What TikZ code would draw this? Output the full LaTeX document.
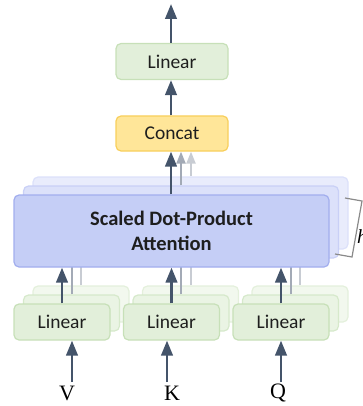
\documentclass[tikz,border=0pt]{standalone}
\usepackage{fontspec}
\setsansfont{Carlito}
\newfontfamily\letterfont{Liberation Serif}
\usetikzlibrary{arrows.meta}

\definecolor{arrowdark}{HTML}{44546A}
\definecolor{ghostA}{HTML}{A3AAB6}
\definecolor{ghostB}{HTML}{C8CCD3}
\definecolor{textdark}{HTML}{1E1E1E}
\definecolor{linfill}{HTML}{E2EFDA}
\definecolor{linline}{HTML}{C7E0B8}
\definecolor{linfillB}{HTML}{EAF4E4}
\definecolor{linlineB}{HTML}{D6E9CB}
\definecolor{linfillC}{HTML}{F2F8EE}
\definecolor{linlineC}{HTML}{E4F0DC}
\definecolor{catfill}{HTML}{FFE699}
\definecolor{catline}{HTML}{F8CF5C}
\definecolor{attfill}{HTML}{C5CEF6}
\definecolor{attline}{HTML}{A2AEEE}
\definecolor{attfillB}{HTML}{DCE1FA}
\definecolor{attlineB}{HTML}{C9D0F6}
\definecolor{attfillC}{HTML}{E9ECFC}
\definecolor{attlineC}{HTML}{DCE1FA}
\definecolor{bracketgray}{HTML}{8A8A8A}

\begin{document}
\begin{tikzpicture}[x=1pt,y=-1pt,
  box/.style={draw, rounded corners=5pt, line width=1.2pt, inner sep=0pt,
    text=textdark, font=\sffamily\fontsize{19.5}{21}\selectfont},
  linbox/.style={box, fill=linfill, draw=linline, minimum width=96pt, minimum height=36pt},
  linboxB/.style={linbox, fill=linfillB, draw=linlineB},
  linboxC/.style={linbox, fill=linfillC, draw=linlineC},
  wideline/.style={box, fill=linfill, draw=linline, minimum width=112pt, minimum height=36pt},
  catbox/.style={box, fill=catfill, draw=catline, minimum width=112pt, minimum height=35pt},
  attbox/.style={box, fill=attfill, draw=attline, minimum width=315pt, minimum height=72pt,
    align=center, font=\sffamily\bfseries\fontsize{20.5}{25}\selectfont},
  attboxB/.style={attbox, fill=attfillB, draw=attlineB},
  attboxC/.style={attbox, fill=attfillC, draw=attlineC},
  arr/.style={-{Triangle[length=15pt,width=11.5pt]}, line width=2.6pt, draw=arrowdark},
  ghostarrA/.style={-{Triangle[length=12pt,width=9pt]}, line width=2pt, draw=ghostA},
  ghostarrB/.style={-{Triangle[length=12pt,width=9pt]}, line width=2pt, draw=ghostB},
  ghostlineA/.style={line width=2pt, draw=ghostA},
  ghostlineB/.style={line width=2pt, draw=ghostB},
  letter/.style={inner sep=0pt, text=black, font=\letterfont\fontsize{22}{24}\selectfont},
  bracket/.style={draw=bracketgray, line width=1.2pt}
]
\useasboundingbox (0,0) rectangle (363,406);

% stacked attention heads, back to front
\node[attboxC] (attC) at (190.5,213) {};
\node[attboxB] (attB) at (181,222) {};

% stacked linear projections for V, K and Q
\foreach \cx/\nm in {62/v, 171.5/k, 281/q} {
  \node[linboxC] (lin\nm C) at ({\cx+19},304) {};
  \node[linboxB] (lin\nm B) at ({\cx+9.5},313) {};
}

% upper blocks
\node[wideline] (linout) at (172,61.5) {Linear};
\node[catbox] (concat) at (172,133.5) {Concat};

% ghost arrows from the back heads into Concat
\coordinate (gA) at (181,0);
\coordinate (gB) at (191,0);
\draw[ghostarrB] (attC.north -| gB) -- (concat.south -| gB);
\draw[ghostarrA] (attB.north -| gA) -- (concat.south -| gA);

% ghost lines from the back projections into the attention block
\foreach \nm in {v,k,q} {
  \draw[ghostlineB] (lin\nm C.north) -- ++(0,-19);
  \draw[ghostlineA] (lin\nm B.north) -- ++(0,-28);
}

% front attention head
\node[attbox] (att) at (171.5,231) {Scaled Dot-Product\\Attention};

% front linear projections
\node[linbox] (linv) at (62,322) {Linear};
\node[linbox] (link) at (171.5,322) {Linear};
\node[linbox] (linq) at (281,322) {Linear};

% inputs
\node[letter] (V) at (67,393) {V};
\node[letter] (K) at (172,393) {K};
\node[letter] (Q) at (278,393) {Q};
\coordinate (vin) at (72,382);
\coordinate (kin) at (167,382);
\coordinate (qin) at (281,382);
\draw[arr] (vin) -- (vin |- linv.south);
\draw[arr] (kin) -- (kin |- link.south);
\draw[arr] (qin) -- (qin |- linq.south);

% projections into attention
\draw[arr] (linv.north) -- (linv.north |- att.south);
\draw[arr] (link.north) -- (link.north |- att.south);
\draw[arr] (linq.north) -- (linq.north |- att.south);

% attention -> concat -> linear -> output
\coordinate (mid) at (171,0);
\draw[arr] (att.north -| mid) -- (concat.south -| mid);
\draw[arr] (concat.north -| mid) -- (linout.south -| mid);
\coordinate (out) at (171,4);
\draw[arr] (linout.north -| mid) -- (out);

% head-count bracket
\coordinate (b1) at (345,198);
\coordinate (b2) at (362,201);
\coordinate (b3) at (352,257);
\coordinate (b4) at (335,254);
\draw[bracket] (b1) -- (b2) -- (b3) -- (b4);
\node[letter, anchor=west, font=\letterfont\itshape\fontsize{20}{22}\selectfont] (hh) at (357,237) {h};
\end{tikzpicture}
\end{document}
